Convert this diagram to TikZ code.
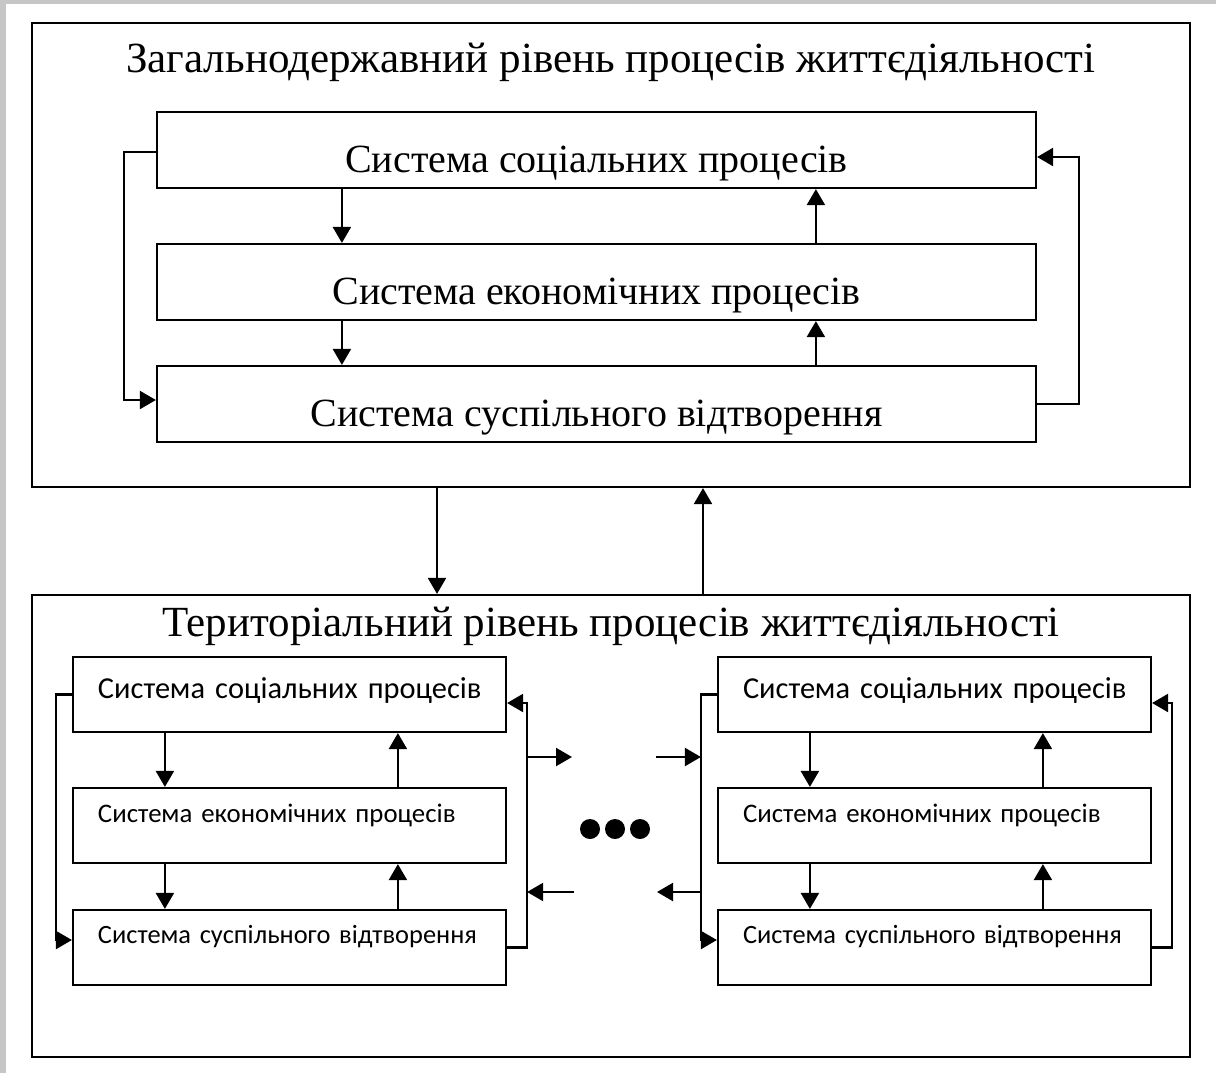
\documentclass[tikz,border=0pt]{standalone}
\usepackage{fontspec}
\setmainfont{Liberation Serif}
\newfontfamily\boxfont{Carlito}
\usetikzlibrary{arrows.meta,positioning}

\begin{document}
\begin{tikzpicture}[
  x=0.5pt, y=-0.5pt,
  node distance=26.9pt,
  level/.style={rectangle, draw=black, line width=1.1pt, minimum width=579pt, minimum height=232pt, inner sep=0pt},
  title/.style={anchor=base, font=\fontsize{21.5}{25}\selectfont},
  bigsys/.style={rectangle, draw=black, line width=1.1pt, minimum width=439.5pt, minimum height=38pt, inner sep=0pt, text height=30pt, text depth=8pt, font=\fontsize{20}{22}\selectfont},
  smallsys/.style={rectangle, draw=black, line width=1.1pt, minimum width=216.5pt, minimum height=37.5pt, inner sep=0pt, text width=216.5pt, align=left, execute at begin node=\hspace*{12.5pt}, font=\boxfont\fontsize{15.2}{17}\selectfont},
  arrow/.style={line width=1.1pt, -{Triangle[length=8pt,width=9pt]}}
]
\useasboundingbox (0,0) rectangle (1216,1073);
\fill [gray!45] (0,0) rectangle (6,1073);
\fill [gray!45] (0,0) rectangle (1216,3.5);

% Levels
\node (gov) [level] at (611,255) {};
\node (ter) [level, minimum height=231pt] at (611,826) {};
\node (govTitle) [title] at (611,72) {Загальнодержавний рівень процесів життєдіяльності};
\node (terTitle) [title] at (611,636) {Територіальний рівень процесів життєдіяльності};

% National systems
\node (govSoc) [bigsys] at (596.5,150) {Система соціальних процесів};
\node (govEco) [bigsys, below=of govSoc] {Система економічних процесів};
\node (govRep) [bigsys, below=21.9pt of govEco] {Система суспільного відтворення};

% Territorial systems
\node (lSoc) [smallsys, text height=20.5pt, text depth=17pt] at (289.5,694.5) {Система соціальних процесів};
\node (lEco) [smallsys, text height=17pt, text depth=20.5pt, font=\boxfont\fontsize{13.4}{15}\selectfont, below=of lSoc] {Система економічних процесів};
\node (lRep) [smallsys, text height=16.5pt, text depth=21pt, font=\boxfont\fontsize{13.2}{15}\selectfont, below=22.4pt of lEco] {Система суспільного відтворення};
\node (rSoc) [smallsys, text height=20.5pt, text depth=17pt] at (934.5,694.5) {Система соціальних процесів};
\node (rEco) [smallsys, text height=17pt, text depth=20.5pt, font=\boxfont\fontsize{13.4}{15}\selectfont, below=of rSoc] {Система економічних процесів};
\node (rRep) [smallsys, text height=16.5pt, text depth=21pt, font=\boxfont\fontsize{13.2}{15}\selectfont, below=22.4pt of rEco] {Система суспільного відтворення};

% Connections
\draw [arrow] ([xshift=93pt]govSoc.south west) -- ([xshift=93pt]govEco.north west);
\draw [arrow] ([xshift=93pt]govEco.south west) -- ([xshift=93pt]govRep.north west);
\draw [arrow] ([xshift=330pt]govEco.north west) -- ([xshift=330pt]govSoc.south west);
\draw [arrow] ([xshift=330pt]govRep.north west) -- ([xshift=330pt]govEco.south west);
\draw [arrow] ([yshift=-1pt]govSoc.west) -- ++(-16pt,0) |- ([yshift=2pt]govRep.west);
\draw [arrow] (govRep.east) -- ++(21pt,0) |- ([yshift=-3.5pt]govSoc.east);

\draw [arrow] ([xshift=-87pt]gov.south) -- ([xshift=-87pt]ter.north);
\draw [arrow] ([xshift=46pt]ter.north) -- ([xshift=46pt]gov.south);

\foreach \g in {l,r} {
  \draw [arrow] ([xshift=46.5pt]\g Soc.south west) -- ([xshift=46.5pt]\g Eco.north west);
  \draw [arrow] ([xshift=46.5pt]\g Eco.south west) -- ([xshift=46.5pt]\g Rep.north west);
  \draw [arrow] ([xshift=163pt]\g Eco.north west) -- ([xshift=163pt]\g Soc.south west);
  \draw [arrow] ([xshift=163pt]\g Rep.north west) -- ([xshift=163pt]\g Eco.south west);
  \draw [arrow] (\g Soc.west) -- ++(-8pt,0) |- ([yshift=3.75pt]\g Rep.west);
  \draw [arrow] (\g Rep.east) -- ++(10pt,0) |- ([yshift=-4.25pt]\g Soc.east);
}

% Links between territories
\coordinate (lBus) at ([xshift=10pt]lRep.east);
\coordinate (rBus) at ([xshift=-8pt]rSoc.west);
\coordinate (lOut) at (572,757);
\coordinate (lIn) at (574,892);
\coordinate (rIn) at (656,757);
\coordinate (rOut) at (657,892);
\draw [arrow] (lOut -| lBus) -- (lOut);
\draw [arrow] (lIn) -- (lIn -| lBus);
\draw [arrow] (rIn) -- (rIn -| rBus);
\draw [arrow] (rOut -| rBus) -- (rOut);

\foreach \x in {590,615,640}
  \fill (\x,829) circle [radius=5pt];
\end{tikzpicture}
\end{document}
